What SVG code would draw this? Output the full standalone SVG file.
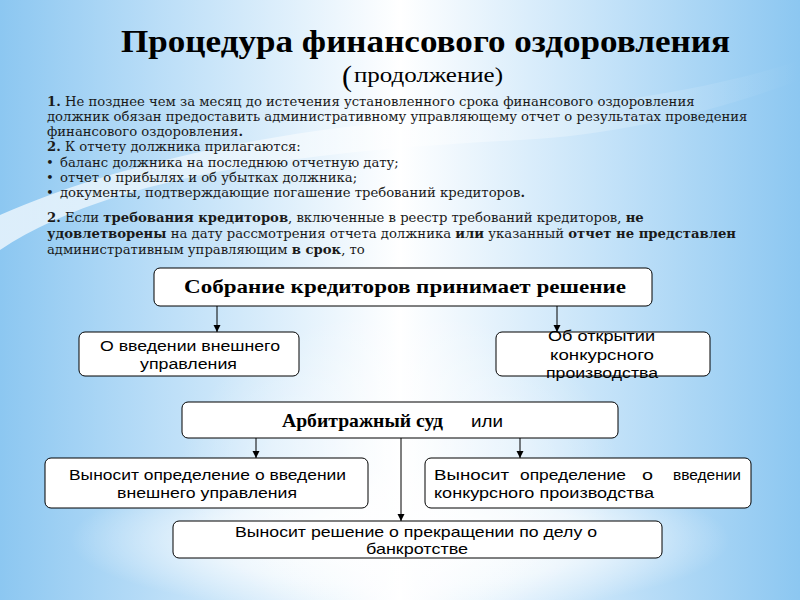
<svg xmlns="http://www.w3.org/2000/svg" width="800" height="600" viewBox="0 0 800 600">
<defs>
<linearGradient id="bgH" x1="0" y1="0" x2="1" y2="0">
<stop offset="0" stop-color="#8cc7f1"/>
<stop offset="0.22" stop-color="#bfe0f8"/>
<stop offset="0.5" stop-color="#ffffff"/>
<stop offset="0.78" stop-color="#bfe0f8"/>
<stop offset="1" stop-color="#8cc7f1"/>
</linearGradient>
<radialGradient id="glow" cx="0.5" cy="0.5" r="0.5">
<stop offset="0" stop-color="#ffffff" stop-opacity="1"/>
<stop offset="0.6" stop-color="#ffffff" stop-opacity="0.6"/>
<stop offset="1" stop-color="#ffffff" stop-opacity="0"/>
</radialGradient>
<linearGradient id="swoosh" x1="0" y1="0" x2="1" y2="0">
<stop offset="0" stop-color="#ffffff" stop-opacity="0.7"/>
<stop offset="0.6" stop-color="#ffffff" stop-opacity="0.35"/>
<stop offset="1" stop-color="#ffffff" stop-opacity="0"/>
</linearGradient>
<marker id="arr" markerUnits="userSpaceOnUse" markerWidth="8" markerHeight="8" refX="7" refY="3.5" orient="auto">
<path d="M0,0 L7,3.5 L0,7 Z" fill="#000"/>
</marker>
<style>
.box{fill:#fff;stroke:#000;stroke-width:1}
.con{stroke:#000;stroke-width:1;fill:none;marker-end:url(#arr)}
.body{font-family:"DejaVu Serif","Liberation Serif",serif;font-size:13.2px;fill:#1a1a1a}
.b{font-weight:bold}
.hb{font-family:"Liberation Serif",serif;font-weight:bold;font-size:19px;fill:#000}
.bx{font-family:"Liberation Sans",Arial,sans-serif;font-size:15.5px;fill:#000}
.bs{font-size:14.5px}
</style>
</defs>
<rect x="0" y="0" width="800" height="600" fill="url(#bgH)"/>
<path d="M0,250 C120,170 330,150 520,140 C620,135 720,110 800,80 L800,60 C700,95 560,110 440,118 C260,130 100,170 0,215 Z" fill="url(#swoosh)"/>
<ellipse cx="400" cy="540" rx="330" ry="75" fill="url(#glow)"/>
<ellipse cx="400" cy="470" rx="220" ry="160" fill="url(#glow)" opacity="0.5"/>

<text x="121" y="52" font-family="Liberation Serif, serif" font-weight="bold" font-size="32" textLength="609" lengthAdjust="spacingAndGlyphs" fill="#000">Процедура финансового оздоровления</text>
<text x="342" y="86" font-family="Liberation Serif, serif" font-size="30" fill="#000">(</text>
<text x="354" y="82" font-family="Liberation Serif, serif" font-size="21" textLength="149" lengthAdjust="spacingAndGlyphs" fill="#000">продолжение)</text>

<g id="intro">
<text class="body" x="47" y="106"><tspan class="b">1.</tspan> Не позднее чем за месяц до истечения установленного срока финансового оздоровления</text>
<text class="body" x="47" y="121">должник обязан предоставить административному управляющему отчет о результатах проведения</text>
<text class="body" x="47" y="136">финансового оздоровления<tspan class="b">.</tspan></text>
<text class="body" x="47" y="151"><tspan class="b">2.</tspan> К отчету должника прилагаются:</text>
<text class="body" x="46" y="167">•</text>
<text class="body" x="60" y="167">баланс должника на последнюю отчетную дату;</text>
<text class="body" x="46" y="182">•</text>
<text class="body" x="60" y="182">отчет о прибылях и об убытках должника;</text>
<text class="body" x="46" y="197">•</text>
<text class="body" x="60" y="197">документы, подтверждающие погашение требований кредиторов<tspan class="b">.</tspan></text>
<text class="body" x="47" y="222"><tspan class="b">2.</tspan> Если <tspan class="b">требования кредиторов</tspan>, включенные в реестр требований кредиторов, <tspan class="b">не</tspan></text>
<text class="body" x="47" y="238"><tspan class="b">удовлетворены</tspan> на дату рассмотрения отчета должника <tspan class="b">или</tspan> указанный <tspan class="b">отчет не представлен</tspan></text>
<text class="body" x="47" y="254">административным управляющим <tspan class="b">в срок</tspan>, то</text>
</g>

<g id="connectors">
<line class="con" x1="217" y1="306" x2="217" y2="332"/>
<line class="con" x1="557" y1="306" x2="557" y2="332"/>
<line class="con" x1="256" y1="438" x2="256" y2="458"/>
<line class="con" x1="520" y1="438" x2="520" y2="458"/>
<line class="con" x1="401" y1="438" x2="401" y2="521"/>
</g>

<g id="n-sobranie">
<rect class="box" x="154" y="268" width="498" height="38" rx="6"/>
<text class="hb" x="184" y="293" textLength="442" lengthAdjust="spacingAndGlyphs">Собрание кредиторов принимает решение</text>
</g>

<g id="n-vneshnee">
<rect class="box" x="79" y="332" width="220" height="44" rx="6"/>
<text class="bx" x="100" y="351" textLength="180" lengthAdjust="spacingAndGlyphs">О введении внешнего</text>
<text class="bx" x="140" y="369" textLength="97" lengthAdjust="spacingAndGlyphs">управления</text>
</g>

<g id="n-konkurs">
<rect class="box" x="496" y="332" width="214" height="44" rx="6"/>
<text class="bx" x="548" y="341" textLength="107" lengthAdjust="spacingAndGlyphs">Об открытии</text>
<text class="bx" x="550" y="360" textLength="104" lengthAdjust="spacingAndGlyphs">конкурсного</text>
<text class="bx" x="546" y="378" textLength="112" lengthAdjust="spacingAndGlyphs">производства</text>
</g>

<g id="n-arbitr">
<rect class="box" x="182" y="402" width="436" height="36" rx="6"/>
<text x="282" y="427" font-family="Liberation Serif, serif" font-weight="bold" font-size="19" textLength="161" lengthAdjust="spacingAndGlyphs" fill="#000">Арбитражный суд</text>
<text x="471" y="427" font-family="Liberation Sans, sans-serif" font-size="16" textLength="32" lengthAdjust="spacingAndGlyphs" fill="#000">или</text>
</g>

<g id="n-opr-vneshnee">
<rect class="box" x="45" y="458" width="323" height="50" rx="6"/>
<text class="bx" x="69" y="480" textLength="277" lengthAdjust="spacingAndGlyphs">Выносит определение о введении</text>
<text class="bx" x="117" y="498" textLength="180" lengthAdjust="spacingAndGlyphs">внешнего управления</text>
</g>

<g id="n-opr-konkurs">
<rect class="box" x="425" y="458" width="326" height="50" rx="6"/>
<text class="bx" x="434" y="480" textLength="75" lengthAdjust="spacingAndGlyphs">Выносит</text>
<text class="bx" x="520" y="480" textLength="106" lengthAdjust="spacingAndGlyphs">определение</text>
<text class="bx" x="642" y="480" textLength="11" lengthAdjust="spacingAndGlyphs">о</text>
<text class="bx" x="673" y="480" textLength="68" lengthAdjust="spacingAndGlyphs">введении</text>
<text class="bx" x="434" y="498" textLength="220" lengthAdjust="spacingAndGlyphs">конкурсного производства</text>
</g>

<g id="n-reshenie">
<rect class="box" x="173" y="521" width="489" height="37" rx="6"/>
<text class="bx bs" x="235" y="537" textLength="362" lengthAdjust="spacingAndGlyphs">Выносит решение о прекращении по делу о</text>
<text class="bx bs" x="366" y="554" textLength="102" lengthAdjust="spacingAndGlyphs">банкротстве</text>
</g>
</svg>
